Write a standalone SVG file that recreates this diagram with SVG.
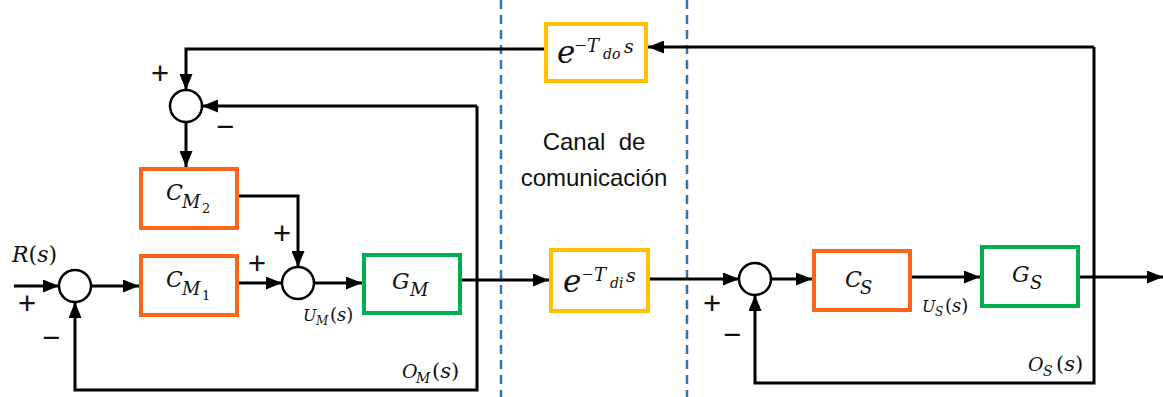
<svg xmlns="http://www.w3.org/2000/svg" width="1163" height="397" viewBox="0 0 1163 397">
<style>
.ln{fill:none;stroke:#000;stroke-width:3;marker-end:url(#ah)}
.sum{fill:#fff;stroke:#000;stroke-width:2.5}
.ctl{fill:#fff;stroke:#FF6314;stroke-width:4}
.plt{fill:#fff;stroke:#00B050;stroke-width:4}
.dly{fill:#fff;stroke:#FFC000;stroke-width:4}
.dash{stroke:#2E75B6;stroke-width:2.5;stroke-dasharray:9 6}
.m{font-family:"DejaVu Serif",serif;font-style:italic;fill:#111}
.u{font-style:normal}
.mn{font-family:"Liberation Serif",serif;font-style:normal;fill:#111}
.sg{font-family:"Liberation Sans",sans-serif;font-size:31px;fill:#111;text-anchor:middle}
.tx{font-family:"Liberation Sans",sans-serif;font-size:24px;fill:#111;text-anchor:middle}
</style>
<defs>
<marker id="ah" markerUnits="userSpaceOnUse" markerWidth="16" markerHeight="13" refX="16" refY="6.5" orient="auto">
<path d="M0,0 L16,6.5 L0,13 z" fill="#000"/>
</marker>
</defs>
<rect width="1163" height="397" fill="#fff"/>
<g id="channel">
<line class="dash" x1="501" y1="0" x2="501" y2="397"/>
<line class="dash" x1="687" y1="0" x2="687" y2="397"/>
<text class="tx" x="594" y="150" xml:space="preserve">Canal  de</text>
<text class="tx" x="594" y="186">comunicación</text>
</g>
<g id="connectors">
<path class="ln" d="M14,286 L59,286"/>
<path class="ln" d="M91,286 L139,286"/>
<path class="ln" d="M239,283 L282,283"/>
<path class="ln" d="M239,196 L298,196 L298,267"/>
<path class="ln" d="M186,122 L186,167"/>
<path class="ln" d="M544,49 L186,49 L186,90"/>
<path class="ln" d="M314,283 L362,283"/>
<path class="ln" d="M462,280 L549,280"/>
<path class="ln" d="M477,106 L202,106"/>
<path class="ln" d="M477,106 L477,390 L75,390 L75,302"/>
<path class="ln" d="M650,279 L739,279"/>
<path class="ln" d="M771,279 L812,279"/>
<path class="ln" d="M912,277 L980,277"/>
<path class="ln" d="M1080,277 L1163,277"/>
<path class="ln" d="M1094,47 L648,47"/>
<path class="ln" d="M1094,47 L1094,383 L755,383 L755,295"/>
</g>
<g id="sum_top"><circle class="sum" cx="186" cy="106" r="16"/>
<text class="sg" x="160" y="84">+</text><text class="sg" x="225" y="137">−</text></g>
<g id="sum1"><circle class="sum" cx="75" cy="286" r="16"/>
<text class="sg" x="27" y="314">+</text><text class="sg" x="51" y="348">−</text></g>
<g id="sum2"><circle class="sum" cx="298" cy="283" r="16"/>
<text class="sg" x="282" y="244">+</text><text class="sg" x="257" y="274">+</text></g>
<g id="sum3"><circle class="sum" cx="755" cy="279" r="16"/>
<text class="sg" x="712" y="314">+</text><text class="sg" x="732" y="345">−</text></g>
<g id="CM2"><rect class="ctl" x="141" y="169" width="96" height="59"/>
<text class="m" x="166" y="200" font-size="22">C</text><text class="m" x="182" y="208" font-size="18">M</text><text class="m u" x="202" y="213" font-size="13">2</text></g>
<g id="CM1"><rect class="ctl" x="141" y="256" width="96" height="59"/>
<text class="m" x="166" y="287" font-size="22">C</text><text class="m" x="182" y="295" font-size="18">M</text><text class="m u" x="202" y="300" font-size="13">1</text></g>
<g id="GM"><rect class="plt" x="364" y="255" width="96" height="58"/>
<text class="m" x="392" y="289" font-size="22">G</text><text class="m" x="410" y="296" font-size="18">M</text></g>
<g id="Tdo"><rect class="dly" x="546" y="24" width="100" height="57"/>
<text class="m" x="557" y="63" font-size="31">e</text><text class="mn" x="575" y="52" font-size="20">−</text><text class="m" x="587" y="52" font-size="18">T</text><text class="m" x="603" y="59" font-size="14">do</text><text class="m" x="624" y="53" font-size="19">s</text></g>
<g id="Tdi"><rect class="dly" x="551" y="250" width="97" height="61"/>
<text class="m" x="563" y="292" font-size="31">e</text><text class="mn" x="582" y="281" font-size="20">−</text><text class="m" x="594" y="281" font-size="18">T</text><text class="m" x="610" y="288" font-size="14">di</text><text class="m" x="626" y="282" font-size="19">s</text></g>
<g id="CS"><rect class="ctl" x="814" y="251" width="96" height="59"/>
<text class="m" x="845" y="287" font-size="22">C</text><text class="m" x="860" y="294" font-size="18">S</text></g>
<g id="GS"><rect class="plt" x="982" y="247" width="96" height="59"/>
<text class="m" x="1012" y="282" font-size="22">G</text><text class="m" x="1030" y="289" font-size="18">S</text></g>
<g id="labels">
<text class="m" x="12" y="262" font-size="22">R<tspan class="u">(</tspan>s<tspan class="u">)</tspan></text>
<text class="m" x="303" y="321" font-size="16">U</text><text class="m" x="316" y="325" font-size="12">M</text><text class="m" x="330" y="321" font-size="18"><tspan class="u">(</tspan>s<tspan class="u">)</tspan></text>
<text class="m" x="402" y="378" font-size="19">O</text><text class="m" x="416" y="383" font-size="14">M</text><text class="m" x="432" y="378" font-size="21"><tspan class="u">(</tspan>s<tspan class="u">)</tspan></text>
<text class="m" x="922" y="312" font-size="16">U</text><text class="m" x="935" y="316" font-size="12">S</text><text class="m" x="945" y="312" font-size="18"><tspan class="u">(</tspan>s<tspan class="u">)</tspan></text>
<text class="m" x="1028" y="371" font-size="19">O</text><text class="m" x="1043" y="376" font-size="14">S</text><text class="m" x="1056" y="371" font-size="21"><tspan class="u">(</tspan>s<tspan class="u">)</tspan></text>
</g>
</svg>
